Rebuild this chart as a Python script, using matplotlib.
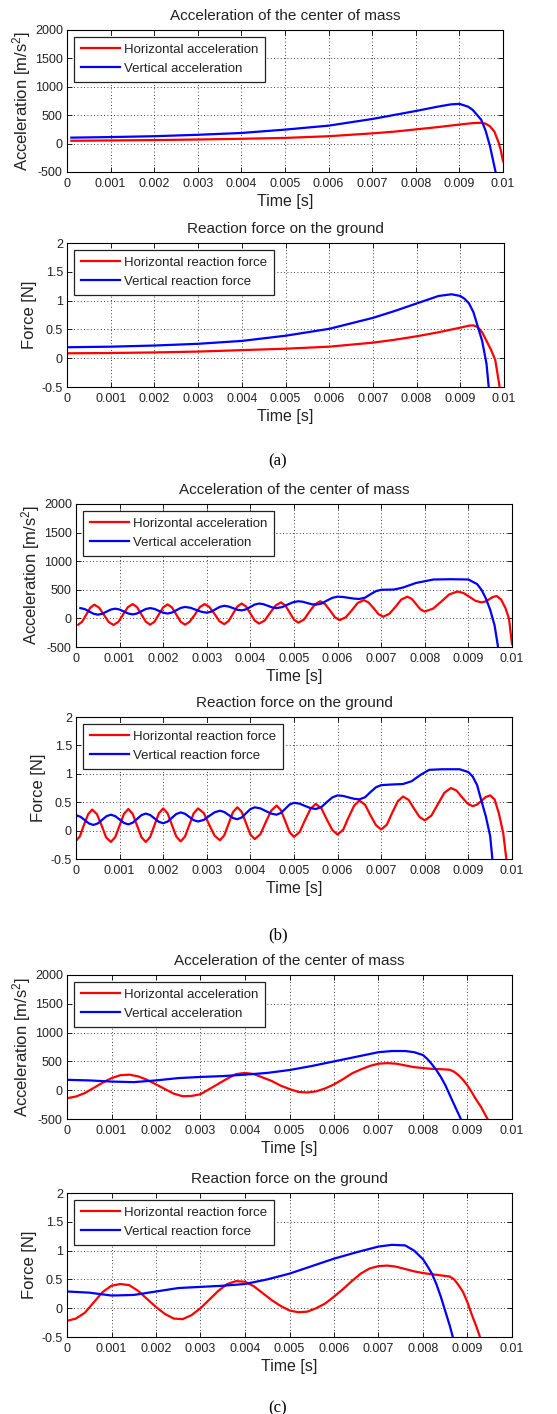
import matplotlib
matplotlib.use("Agg")
import matplotlib.pyplot as plt

plt.rcParams['font.family'] = ['Liberation Sans', 'DejaVu Sans']
plt.rcParams['mathtext.default'] = 'regular'
plt.rcParams['axes.unicode_minus'] = False

W, H = 557, 1414

# ---- shared labels ----
x_ticks = [0, 0.001, 0.002, 0.003, 0.004, 0.005, 0.006, 0.007, 0.008, 0.009, 0.01]
x_tick_labels = ['0', '0.001', '0.002', '0.003', '0.004', '0.005', '0.006', '0.007', '0.008', '0.009', '0.01']
acc_ticks = [-500, 0, 500, 1000, 1500, 2000]
force_ticks = [-0.5, 0, 0.5, 1, 1.5, 2]
force_tick_labels = ['-0.5', '0', '0.5', '1', '1.5', '2']
captions = ['(a)', '(b)', '(c)']

# ---- (a) acceleration ----
a_acc_th = [0.0001, 0.001, 0.002, 0.003, 0.004, 0.005, 0.006, 0.007, 0.0075, 0.008, 0.0085, 0.009,
            0.0093, 0.0095, 0.0096, 0.0097, 0.0098, 0.0099, 0.00995, 0.01]
a_acc_h = [50, 55, 62, 72, 85, 100, 130, 180, 210, 250, 290, 335,
           360, 368, 350, 305, 215, 20, -120, -310]
a_acc_tv = [0.0001, 0.001, 0.002, 0.003, 0.004, 0.005, 0.006, 0.007, 0.008, 0.0085, 0.0088, 0.009,
            0.0092, 0.0093, 0.0094, 0.0095, 0.0096, 0.0097, 0.00983]
a_acc_v = [105, 115, 130, 155, 187, 246, 316, 433, 574, 650, 690, 700,
           650, 597, 510, 420, 230, -40, -500]

# ---- (a) force ----
a_f_th = [0, 0.001, 0.002, 0.003, 0.004, 0.005, 0.006, 0.007, 0.0075, 0.008, 0.0085, 0.009,
          0.0092, 0.0093, 0.0094, 0.0095, 0.0096, 0.0097, 0.0098, 0.0099]
a_f_h = [0.085, 0.09, 0.1, 0.115, 0.14, 0.165, 0.2, 0.27, 0.32, 0.38, 0.45, 0.53,
         0.565, 0.57, 0.54, 0.45, 0.3, 0.15, -0.03, -0.5]
a_f_tv = [0, 0.001, 0.002, 0.003, 0.004, 0.005, 0.006, 0.007, 0.0075, 0.008, 0.0085, 0.0088,
          0.009, 0.0091, 0.0092, 0.0093, 0.0094, 0.0095, 0.0096, 0.00965]
a_f_v = [0.19, 0.2, 0.22, 0.25, 0.3, 0.39, 0.51, 0.7, 0.82, 0.95, 1.08, 1.11,
         1.08, 1.03, 0.95, 0.8, 0.55, 0.3, -0.1, -0.5]

# ---- (b) acceleration ----
b_acc_th = [0.00005, 0.00014, 0.000235, 0.00033, 0.00042, 0.00053, 0.00064, 0.00075, 0.00086,
            0.00097, 0.00108, 0.00119, 0.0013, 0.0014, 0.0015, 0.0016, 0.0017,
            0.0018, 0.0019, 0.002, 0.0021, 0.0022, 0.0023, 0.0024, 0.0025,
            0.00261, 0.00273, 0.00284, 0.00295, 0.00306, 0.00318, 0.00329, 0.0034,
            0.0035, 0.0036, 0.0037, 0.0038, 0.0039, 0.004, 0.0041, 0.0042,
            0.00433, 0.00445, 0.00458, 0.0047, 0.0048, 0.0049, 0.005, 0.0051,
            0.00523, 0.00535, 0.00548, 0.0056, 0.00571, 0.00583, 0.00594, 0.00605,
            0.00619, 0.00633, 0.00646, 0.0066, 0.00671, 0.00683, 0.00694, 0.00705,
            0.00719, 0.00733, 0.00746, 0.0076, 0.0077, 0.0078, 0.0079, 0.008,
            0.00819, 0.00838, 0.00856, 0.00875, 0.00889, 0.00903, 0.00916, 0.0093,
            0.00939, 0.00948, 0.00956, 0.00965, 0.00975, 0.00985, 0.00993, 0.01]
b_acc_h = [-110, -59, 65, 189, 240, 188, 62, -63, -115,
           -62, 68, 197, 250, 197, 70, -57, -110,
           -59, 68, 193, 245, 193, 68, -58, -110,
           -57, 70, 197, 250, 199, 75, -49, -100,
           -47, 80, 207, 260, 209, 85, -39, -90,
           -36, 95, 226, 280, 228, 103, -23, -75,
           -20, 113, 245, 300, 252, 135, 18, -30,
           21, 145, 269, 320, 278, 175, 72, 30,
           81, 205, 329, 380, 342, 250, 158, 120,
           171, 295, 419, 470, 442, 375, 308, 280,
           296, 335, 374, 390, 330, 180, 0, -450]
b_acc_tv = [0.0001, 0.0002, 0.0003, 0.0004, 0.0005, 0.0006, 0.0007, 0.0008, 0.0009,
            0.001, 0.0011, 0.0012, 0.0013, 0.0014, 0.0015, 0.0016, 0.0017,
            0.0018, 0.0019, 0.002, 0.0021, 0.0022, 0.0023, 0.0024, 0.0025,
            0.00263, 0.00275, 0.00288, 0.003, 0.0031, 0.0032, 0.0033, 0.0034,
            0.0035, 0.0036, 0.0037, 0.0038, 0.0039, 0.004, 0.0041, 0.0042,
            0.0043, 0.0044, 0.0045, 0.0046, 0.00473, 0.00485, 0.00498, 0.0051,
            0.0052, 0.0053, 0.0054, 0.0055, 0.00563, 0.00575, 0.00588, 0.006,
            0.00613, 0.00625, 0.00638, 0.0065, 0.00663, 0.00675, 0.00688, 0.007,
            0.0073, 0.0075, 0.0078, 0.0082, 0.0086, 0.009, 0.0092, 0.0093,
            0.0094, 0.0095, 0.0096, 0.00968]
b_acc_v = [180, 163, 122, 82, 65, 80, 118, 155, 170,
           155, 120, 85, 70, 86, 125, 164, 180,
           166, 132, 99, 85, 102, 142, 183, 200,
           185, 150, 115, 100, 118, 160, 202, 220,
           208, 180, 152, 140, 158, 200, 242, 260,
           248, 220, 192, 180, 198, 240, 282, 300,
           291, 270, 249, 240, 260, 310, 360, 380,
           374, 360, 346, 340, 363, 420, 477, 500,
           505, 540, 620, 680, 685, 680, 600, 500,
           350, 150, -120, -500]

# ---- (b) force ----
b_f_th = [0, 0.00009, 0.00018, 0.00028, 0.00037, 0.00048, 0.00059, 0.00069, 0.0008,
          0.0009, 0.001, 0.0011, 0.0012, 0.0013, 0.0014, 0.0015, 0.0016,
          0.0017, 0.0018, 0.0019, 0.002, 0.0021, 0.0022, 0.0023, 0.0024,
          0.0025, 0.0026, 0.0027, 0.0028, 0.00293, 0.00305, 0.00318, 0.0033,
          0.0034, 0.0035, 0.0036, 0.0037, 0.0038, 0.0039, 0.004, 0.0041,
          0.00423, 0.00435, 0.00448, 0.0046, 0.0047, 0.0048, 0.0049, 0.005,
          0.00513, 0.00525, 0.00538, 0.0055, 0.00563, 0.00575, 0.00588, 0.006,
          0.00613, 0.00625, 0.00638, 0.0065, 0.00663, 0.00675, 0.00688, 0.007,
          0.00713, 0.00725, 0.00738, 0.0075, 0.00763, 0.00775, 0.00788, 0.008,
          0.00815, 0.0083, 0.00845, 0.0086, 0.00873, 0.00885, 0.00898, 0.0091,
          0.0092, 0.0093, 0.0094, 0.0095, 0.0096, 0.0097, 0.0098, 0.00987]
b_f_h = [-0.18, -0.10, 0.095, 0.29, 0.37, 0.29, 0.085, -0.12, -0.2,
         -0.115, 0.09, 0.295, 0.38, 0.295, 0.09, -0.115, -0.2,
         -0.114, 0.095, 0.304, 0.39, 0.305, 0.1, -0.105, -0.19,
         -0.105, 0.1, 0.305, 0.39, 0.31, 0.11, -0.09, -0.17,
         -0.085, 0.12, 0.325, 0.41, 0.33, 0.13, -0.07, -0.15,
         -0.064, 0.145, 0.354, 0.44, 0.36, 0.165, -0.03, -0.11,
         -0.025, 0.18, 0.385, 0.47, 0.39, 0.2, 0.01, -0.07,
         0.018, 0.23, 0.44, 0.53, 0.455, 0.275, 0.095, 0.02,
         0.105, 0.31, 0.515, 0.6, 0.54, 0.39, 0.24, 0.18,
         0.263, 0.465, 0.667, 0.75, 0.703, 0.59, 0.477, 0.43,
         0.458, 0.525, 0.592, 0.62, 0.55, 0.3, -0.05, -0.5]
b_f_tv = [0, 0.0001, 0.0002, 0.0003, 0.0004, 0.0005, 0.0006, 0.0007, 0.0008,
          0.0009, 0.001, 0.0011, 0.0012, 0.0013, 0.0014, 0.0015, 0.0016,
          0.0017, 0.0018, 0.0019, 0.002, 0.0021, 0.0022, 0.0023, 0.0024,
          0.0025, 0.0026, 0.0027, 0.0028, 0.00293, 0.00305, 0.00318, 0.0033,
          0.0034, 0.0035, 0.0036, 0.0037, 0.0038, 0.0039, 0.004, 0.0041,
          0.00423, 0.00435, 0.00448, 0.0046, 0.0047, 0.0048, 0.0049, 0.005,
          0.00513, 0.00525, 0.00538, 0.0055, 0.00563, 0.00575, 0.00588, 0.006,
          0.00613, 0.00625, 0.00638, 0.0065, 0.00663, 0.00675, 0.00688, 0.007,
          0.0072, 0.0075, 0.0077, 0.0079, 0.0081, 0.0084, 0.0088, 0.009,
          0.0091, 0.0092, 0.0093, 0.0094, 0.0095, 0.00955]
b_f_v = [0.27, 0.245, 0.185, 0.125, 0.1, 0.126, 0.19, 0.254, 0.28,
         0.255, 0.195, 0.135, 0.11, 0.138, 0.205, 0.272, 0.3,
         0.275, 0.215, 0.155, 0.13, 0.158, 0.225, 0.292, 0.32,
         0.297, 0.24, 0.183, 0.16, 0.188, 0.255, 0.322, 0.35,
         0.328, 0.275, 0.222, 0.2, 0.231, 0.305, 0.379, 0.41,
         0.391, 0.345, 0.299, 0.28, 0.311, 0.385, 0.459, 0.49,
         0.474, 0.435, 0.396, 0.38, 0.415, 0.5, 0.585, 0.62,
         0.61, 0.585, 0.56, 0.55, 0.587, 0.675, 0.763, 0.8,
         0.81, 0.82, 0.87, 0.98, 1.07, 1.08, 1.08, 1.03,
         0.95, 0.8, 0.52, 0.25, -0.1, -0.5]

# ---- (c) acceleration ----
c_acc_th = [0, 0.0002, 0.0004, 0.0006, 0.0008, 0.001, 0.0012, 0.0014, 0.0016, 0.0018,
            0.002, 0.0022, 0.0024, 0.0026, 0.0028, 0.003, 0.0032, 0.0034, 0.0036, 0.0038,
            0.004, 0.0042, 0.0044, 0.0046, 0.0048, 0.005, 0.0052, 0.0054, 0.0056, 0.0058,
            0.006, 0.0062, 0.0064, 0.0066, 0.0068, 0.007, 0.0072, 0.0074, 0.0076, 0.0078,
            0.008, 0.0082, 0.0084, 0.0086, 0.0087, 0.0088, 0.0089, 0.009, 0.0091, 0.0092,
            0.0093, 0.00945]
c_acc_h = [-140, -110, -50, 40, 130, 210, 260, 270, 240, 180,
           100, 20, -60, -105, -100, -70, 20, 110, 200, 280,
           300, 280, 220, 160, 80, 20, -30, -40, -20, 30,
           100, 190, 290, 360, 420, 460, 470, 460, 430, 400,
           385, 370, 365, 355, 320, 260, 180, 80, -40, -170,
           -285, -500]
c_acc_tv = [0, 0.0005, 0.001, 0.0015, 0.002, 0.0025, 0.003, 0.0035, 0.004, 0.0045,
            0.005, 0.0055, 0.006, 0.0065, 0.007, 0.0073, 0.0076, 0.0078, 0.008, 0.0081,
            0.0082, 0.0083, 0.0084, 0.0085, 0.0086, 0.0087, 0.00885]
c_acc_v = [180, 170, 150, 140, 170, 210, 230, 245, 270, 300,
           350, 420, 500, 580, 660, 680, 680, 660, 610, 540,
           450, 350, 230, 90, -80, -250, -500]

# ---- (c) force ----
c_f_th = [0, 0.0002, 0.0004, 0.0006, 0.0008, 0.001, 0.0012, 0.0014, 0.0016, 0.0018,
          0.002, 0.0022, 0.0024, 0.0026, 0.0028, 0.003, 0.0032, 0.0034, 0.0036, 0.0038,
          0.004, 0.0042, 0.0044, 0.0046, 0.0048, 0.005, 0.0052, 0.0054, 0.0056, 0.0058,
          0.006, 0.0062, 0.0064, 0.0066, 0.0068, 0.007, 0.0072, 0.0074, 0.0076, 0.0078,
          0.008, 0.0082, 0.0084, 0.0086, 0.0087, 0.0088, 0.0089, 0.009, 0.0091, 0.0092,
          0.00928]
c_f_h = [-0.22, -0.18, -0.08, 0.1, 0.28, 0.39, 0.42, 0.4, 0.3, 0.16,
         0.02, -0.1, -0.18, -0.19, -0.12, 0.0, 0.15, 0.3, 0.42, 0.47,
         0.46, 0.38, 0.26, 0.14, 0.04, -0.04, -0.07, -0.06, 0.0, 0.08,
         0.2, 0.33, 0.47, 0.6, 0.69, 0.73, 0.74, 0.72, 0.68, 0.64,
         0.61, 0.59, 0.57, 0.55, 0.5, 0.4, 0.28, 0.1, -0.12, -0.32,
         -0.5]
c_f_tv = [0, 0.0005, 0.001, 0.0015, 0.002, 0.0025, 0.003, 0.0035, 0.004, 0.0045,
          0.005, 0.0055, 0.006, 0.0065, 0.007, 0.0073, 0.0076, 0.0078, 0.008, 0.0081,
          0.0082, 0.0083, 0.0084, 0.0085, 0.0086, 0.00867]
c_f_v = [0.29, 0.27, 0.22, 0.23, 0.29, 0.35, 0.37, 0.39, 0.42, 0.5,
         0.6, 0.73, 0.86, 0.97, 1.07, 1.1, 1.09, 1.0, 0.85, 0.73,
         0.6, 0.42, 0.2, -0.05, -0.3, -0.5]

panels = [
    # (pixel box left, right, top, bottom), kind, th, h, tv, v
    ((67, 503, 30, 172), 'acc', a_acc_th, a_acc_h, a_acc_tv, a_acc_v),
    ((67, 504, 243, 387), 'force', a_f_th, a_f_h, a_f_tv, a_f_v),
    ((76, 512, 504, 647), 'acc', b_acc_th, b_acc_h, b_acc_tv, b_acc_v),
    ((76, 512, 717, 859), 'force', b_f_th, b_f_h, b_f_tv, b_f_v),
    ((67, 512, 975, 1119), 'acc', c_acc_th, c_acc_h, c_acc_tv, c_acc_v),
    ((67, 512, 1193, 1337), 'force', c_f_th, c_f_h, c_f_tv, c_f_v),
]
caption_y = [461, 935, 1408]

fig = plt.figure(figsize=(W / 100, H / 100), dpi=100)
txt = '#222222'

for box, kind, th, h, tv, v in panels:
    l, r, t, b = box
    ax = fig.add_axes([l / W, 1 - b / H, (r - l) / W, (b - t) / H])
    if kind == 'acc':
        lab_h, lab_v = 'Horizontal acceleration', 'Vertical acceleration'
        ax.set_title('Acceleration of the center of mass', fontsize=11, color=txt, pad=7)
        ax.set_ylabel('Acceleration [m/s$^2$]', fontsize=12, color=txt, labelpad=1)
        ax.set_ylim(-500, 2000)
        ax.set_yticks(acc_ticks)
    else:
        lab_h, lab_v = 'Horizontal reaction force', 'Vertical reaction force'
        ax.set_title('Reaction force on the ground', fontsize=11, color=txt, pad=7)
        ax.set_ylabel('Force [N]', fontsize=12, color=txt, labelpad=3)
        ax.set_ylim(-0.5, 2)
        ax.set_yticks(force_ticks)
        ax.set_yticklabels(force_tick_labels)
    ax.plot(th, h, color='#ff0000', lw=1.6, label=lab_h)
    ax.plot(tv, v, color='#0000ff', lw=1.6, label=lab_v)
    ax.set_xlim(0, 0.01)
    ax.set_xticks(x_ticks)
    ax.set_xticklabels(x_tick_labels)
    ax.set_xlabel('Time [s]', fontsize=11.5, color=txt, labelpad=3)
    ax.tick_params(direction='in', top=True, right=True, labelsize=9,
                   labelcolor=txt, length=3.5, width=0.6)
    ax.tick_params(axis='x', pad=4.5)
    ax.tick_params(axis='y', pad=3)
    ax.grid(True, color='k', linestyle=(0, (1, 3)), linewidth=0.6)
    for sp in ax.spines.values():
        sp.set_linewidth(0.8)
    leg = ax.legend(loc='upper left', fontsize=9.5, handlelength=3.0, fancybox=False,
                    framealpha=1, edgecolor='#222222', borderaxespad=0.55,
                    borderpad=0.5, labelspacing=0.5, handletextpad=0.3)
    leg.get_frame().set_linewidth(0.9)
    for tx in leg.get_texts():
        tx.set_color(txt)

for cap, cy in zip(captions, caption_y):
    fig.text(278 / W, 1 - cy / H, cap, ha='center', va='center', fontsize=12,
             family=['Liberation Serif', 'DejaVu Serif'], color='k')

fig.savefig('out.png', dpi=100)
